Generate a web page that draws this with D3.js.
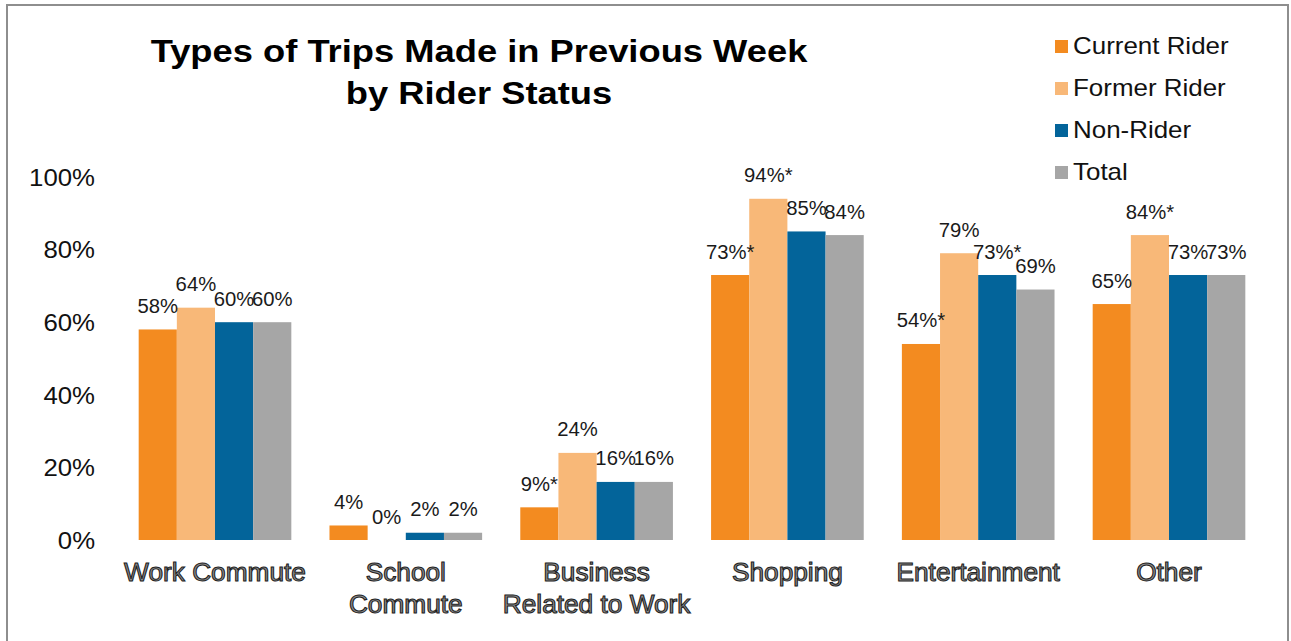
<!DOCTYPE html>
<html>
<head>
<meta charset="utf-8">
<script src="https://cdn.jsdelivr.net/npm/d3@7"></script>
<style>
  html, body { margin: 0; padding: 0; background: #fff; }
  svg { display: block; }
  text { font-family: "Liberation Sans", Arial, sans-serif; }
</style>
</head>
<body>
<svg id="chart" width="1291" height="641"></svg>
<script>
// Trip types (x categories), each may wrap onto two lines
const categories = ["Work Commute", "School Commute", "Business Related to Work", "Shopping", "Entertainment", "Other"];
const categoryLines = [["Work Commute"], ["School", "Commute"], ["Business", "Related to Work"], ["Shopping"], ["Entertainment"], ["Other"]];

// Rider status series
const seriesNames = ["Current Rider", "Former Rider", "Non-Rider", "Total"];
const seriesColors = ["#F38B20", "#F8B878", "#03649A", "#A6A6A6"];

// Share of respondents making each trip type (%)
const currentRider = [58, 4, 9, 73, 54, 65];
const formerRider  = [64, 0, 24, 94, 79, 84];
const nonRider     = [60, 2, 16, 85, 73, 73];
const totalValues  = [60, 2, 16, 84, 69, 73];

// Significance markers appended to the value labels
const currentMark = ["", "", "*", "*", "*", ""];
const formerMark  = ["", "", "", "*", "", "*"];
const nonMark     = ["", "", "", "", "*", ""];
const totalMark   = ["", "", "", "", "", ""];

const yTicks = [0, 20, 40, 60, 80, 100];

const seriesValues = [currentRider, formerRider, nonRider, totalValues];
const seriesMarks = [currentMark, formerMark, nonMark, totalMark];

const svg = d3.select("#chart");

// Widen glyphs horizontally by a factor, keeping the anchor
function stretch(sel, k) {
  sel.each(function () {
    const w = this.getComputedTextLength();
    this.setAttribute("textLength", (w * k).toFixed(1));
    this.setAttribute("lengthAdjust", "spacingAndGlyphs");
  });
}

// Outer frame
svg.append("rect")
  .attr("x", 7).attr("y", 5)
  .attr("width", 1281).attr("height", 660)
  .attr("fill", "none")
  .attr("stroke", "#8e8e8e")
  .attr("stroke-width", 2);

// Scales
const x0 = d3.scaleBand()
  .domain(categories)
  .range([119.6, 1264.4])
  .paddingInner(0.2)
  .paddingOuter(0.1);

const x1 = d3.scaleBand()
  .domain(seriesNames)
  .range([0, x0.bandwidth()])
  .padding(0);

const y = d3.scaleLinear().domain([0, 100]).range([540, 177]);

// Y axis (labels only)
const yAxis = svg.append("g")
  .attr("transform", "translate(103,0)")
  .call(d3.axisLeft(y).tickValues(yTicks).tickSize(0).tickPadding(8).tickFormat(d => d + "%"));
yAxis.select(".domain").remove();
yAxis.selectAll("text")
  .attr("font-size", 23)
  .attr("fill", "#111")
  .attr("dy", "0.36em")
  .style("font-family", "'Liberation Sans', Arial, sans-serif");
stretch(yAxis.selectAll("text"), 1.12);

// Bars
const rows = categories.map((c, i) => ({
  cat: c,
  items: seriesNames.map((s, j) => ({ s, j, v: seriesValues[j][i], mark: seriesMarks[j][i] }))
}));

const groups = svg.append("g").selectAll("g")
  .data(rows)
  .join("g")
  .attr("transform", d => `translate(${x0(d.cat)},0)`);

groups.selectAll("rect")
  .data(d => d.items)
  .join("rect")
  .attr("x", d => x1(d.s))
  .attr("y", d => y(d.v))
  .attr("width", x1.bandwidth())
  .attr("height", d => y(0) - y(d.v))
  .attr("fill", d => seriesColors[d.j]);

// Value labels
const valueLabels = groups.selectAll("text.val")
  .data(d => d.items)
  .join("text")
  .attr("class", "val")
  .attr("x", d => x1(d.s) + x1.bandwidth() / 2)
  .attr("y", d => y(d.v) - 16.5)
  .attr("text-anchor", "middle")
  .attr("font-size", 19.5)
  .attr("fill", "#1a1a1a")
  .text(d => d.v + "%" + d.mark);
stretch(valueLabels, 1.04);

// Category labels
const catG = svg.append("g");
categories.forEach((c, i) => {
  categoryLines[i].forEach((line, k) => {
    const t = catG.append("text")
      .attr("x", x0(c) + x0.bandwidth() / 2)
      .attr("y", 581 + k * 32)
      .attr("text-anchor", "middle")
      .attr("font-size", 25)
      .attr("fill", "#8f8f8f")
      .attr("stroke", "#222")
      .attr("stroke-width", 1.05)
      .text(line);
    stretch(t, 1.05);
  });
});

// Title
const title = svg.append("g");
["Types of Trips Made in Previous Week", "by Rider Status"].forEach((line, k) => {
  const t = title.append("text")
    .attr("x", 479)
    .attr("y", 62 + k * 42)
    .attr("text-anchor", "middle")
    .attr("font-size", 32)
    .attr("font-weight", "bold")
    .attr("fill", "#000")
    .text(line);
  stretch(t, 1.135);
});

// Legend
const legend = svg.append("g").selectAll("g")
  .data(seriesNames)
  .join("g")
  .attr("transform", (d, i) => `translate(1055,${40 + i * 42})`);
legend.append("rect")
  .attr("width", 13).attr("height", 13)
  .attr("fill", (d, i) => seriesColors[i]);
const legendText = legend.append("text")
  .attr("x", 18)
  .attr("y", 14)
  .attr("font-size", 24)
  .attr("fill", "#111")
  .text(d => d);
stretch(legendText, 1.08);
</script>
</body>
</html>
